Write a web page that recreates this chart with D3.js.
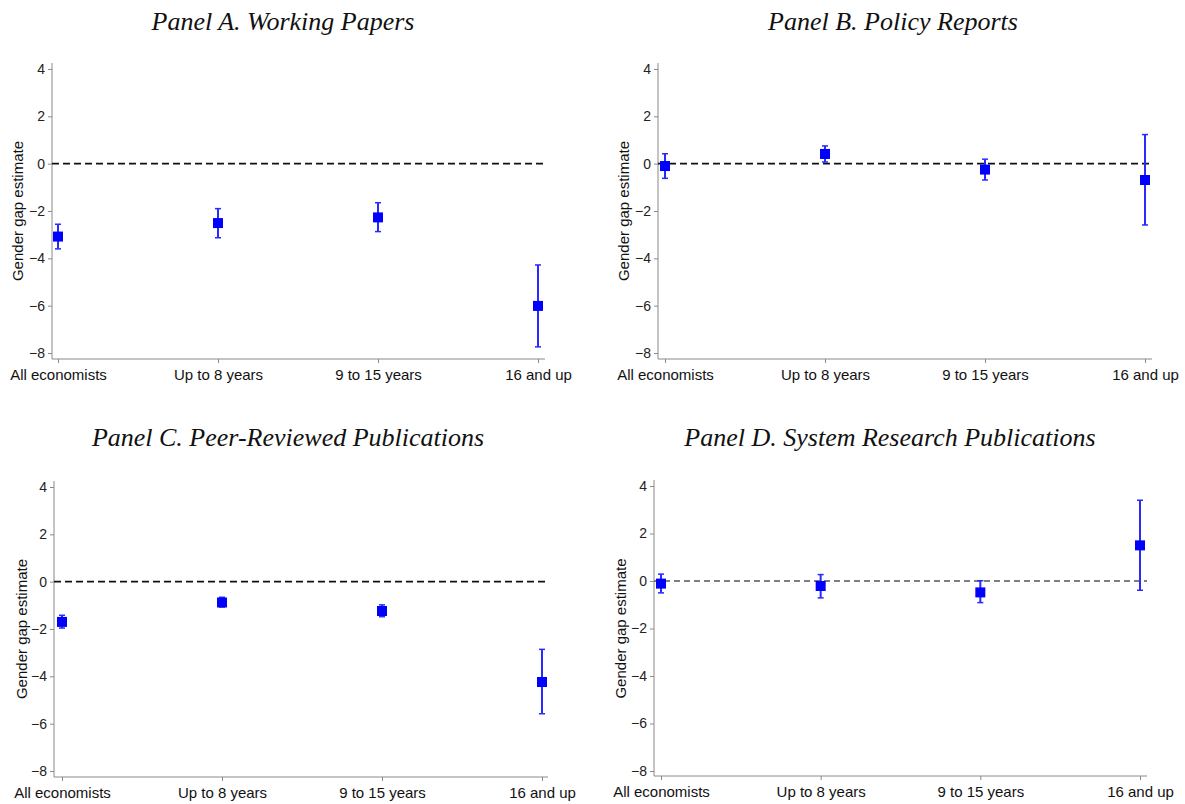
<!DOCTYPE html>
<html>
<head>
<meta charset="utf-8">
<script src="https://cdn.jsdelivr.net/npm/d3@7"></script>
<style>
  body { margin: 0; background: #fff; }
  text { font-family: "Liberation Sans", Arial, sans-serif; }
</style>
</head>
<body>
<div id="chart"></div>
<script>
// Data
const categories = ["All economists", "Up to 8 years", "9 to 15 years", "16 and up"];
const yTicks = [4, 2, 0, -2, -4, -6, -8];

const titles = ["Panel A. Working Papers", "Panel B. Policy Reports",
  "Panel C. Peer-Reviewed Publications", "Panel D. System Research Publications"];

const estA = [-3.08, -2.51, -2.27, -6.01];
const loA  = [-3.60, -3.13, -2.87, -7.74];
const hiA  = [-2.56, -1.90, -1.65, -4.28];

const estB = [-0.10, 0.41, -0.25, -0.69];
const loB  = [-0.62, 0.07, -0.69, -2.59];
const hiB  = [0.42, 0.75, 0.19, 1.23];

const estC = [-1.70, -0.88, -1.24, -4.24];
const loC  = [-1.96, -1.07, -1.48, -5.58];
const hiC  = [-1.42, -0.66, -0.98, -2.86];

const estD = [-0.11, -0.21, -0.48, 1.50];
const loD  = [-0.50, -0.71, -0.91, -0.39];
const hiD  = [0.29, 0.27, 0.01, 3.40];

const W = 1185, H = 804;
const svg = d3.select("#chart").append("svg").attr("width", W).attr("height", H);

// layout of each panel
const panels = [
  {title: titles[0], est: estA, lo: loA, hi: hiA, left: 52, top: 69, bottom: 353, axisY: 359, x0: 58, x1: 538, xEnd: 545, titleX: 283, titleY: 30, labelX: 18, dash: "black"},
  {title: titles[1], est: estB, lo: loB, hi: hiB, left: 658, top: 69, bottom: 353, axisY: 359, x0: 665, x1: 1145, xEnd: 1152, titleX: 893, titleY: 30, labelX: 624, dash: "black"},
  {title: titles[2], est: estC, lo: loC, hi: hiC, left: 54, top: 487, bottom: 771, axisY: 777, x0: 62, x1: 542, xEnd: 548, titleX: 288, titleY: 446, labelX: 22, dash: "black"},
  {title: titles[3], est: estD, lo: loD, hi: hiD, left: 654, top: 486, bottom: 771, axisY: 776, x0: 661, x1: 1140, xEnd: 1147, titleX: 890, titleY: 446, labelX: 621, dash: "gray"}
];

panels.forEach(p => {
  const g = svg.append("g");

  const y = d3.scaleLinear().domain([-8, 4]).range([p.bottom, p.top]);
  const x = d3.scalePoint().domain(categories).range([p.x0, p.x1]);

  // Title
  g.append("text")
    .attr("x", p.titleX).attr("y", p.titleY)
    .attr("text-anchor", "middle")
    .style("font-family", "'Liberation Serif', 'Times New Roman', serif")
    .style("font-style", "italic")
    .style("font-size", "26px")
    .attr("fill", "#111")
    .text(p.title);

  // Y axis
  const yAxis = g.append("g")
    .attr("transform", "translate(" + p.left + ",0)")
    .call(d3.axisLeft(y).tickValues(yTicks).tickSize(4).tickPadding(3).tickFormat(d3.format("d")));
  yAxis.select(".domain").remove();
  yAxis.append("line")
    .attr("x1", 0).attr("x2", 0)
    .attr("y1", p.top - 6).attr("y2", p.axisY)
    .attr("stroke", "#8a8a8a");
  yAxis.selectAll(".tick line").attr("stroke", "#8a8a8a");
  yAxis.selectAll(".tick text")
    .style("font-size", "14px")
    .attr("fill", "#222");

  // X axis
  const xAxis = g.append("g")
    .attr("transform", "translate(0," + p.axisY + ")")
    .call(d3.axisBottom(x).tickSize(4).tickPadding(6));
  xAxis.select(".domain").remove();
  xAxis.append("line")
    .attr("x1", p.left).attr("x2", p.xEnd)
    .attr("y1", 0).attr("y2", 0)
    .attr("stroke", "#8a8a8a");
  xAxis.selectAll(".tick line").attr("stroke", "#8a8a8a");
  xAxis.selectAll(".tick text")
    .style("font-size", "15px")
    .attr("fill", "#111");

  // Y label
  g.append("text")
    .attr("transform", "translate(" + p.labelX + "," + ((p.top + p.bottom) / 2) + ") rotate(-90)")
    .attr("text-anchor", "middle")
    .attr("dy", "0.35em")
    .style("font-size", "15px")
    .attr("fill", "#111")
    .text("Gender gap estimate");

  // Zero reference line
  g.append("line")
    .attr("x1", p.left).attr("x2", p.xEnd)
    .attr("y1", y(0)).attr("y2", y(0))
    .attr("stroke", p.dash === "black" ? "#111" : "#555")
    .attr("stroke-width", p.dash === "black" ? 1.8 : 1.3)
    .attr("stroke-dasharray", p.dash === "black" ? "7,4" : "6,4");

  // Confidence intervals
  const rows = categories.map((c, i) => ({c: c, est: p.est[i], lo: p.lo[i], hi: p.hi[i]}));
  const ci = g.selectAll("g.ci").data(rows).enter().append("g").attr("class", "ci");
  ci.append("line")
    .attr("x1", d => x(d.c)).attr("x2", d => x(d.c))
    .attr("y1", d => y(d.hi)).attr("y2", d => y(d.lo))
    .attr("stroke", "#2a2aff").attr("stroke-width", 2);
  ["hi", "lo"].forEach(k => {
    ci.append("line")
      .attr("x1", d => x(d.c) - 3).attr("x2", d => x(d.c) + 3)
      .attr("y1", d => y(d[k])).attr("y2", d => y(d[k]))
      .attr("stroke", "#2a2aff").attr("stroke-width", 1.5);
  });

  // Point estimates
  g.selectAll("rect.pt").data(rows).enter().append("rect")
    .attr("class", "pt")
    .attr("x", d => x(d.c) - 5).attr("y", d => y(d.est) - 5)
    .attr("width", 10).attr("height", 10)
    .attr("fill", "#0000ff");
});
</script>
</body>
</html>
